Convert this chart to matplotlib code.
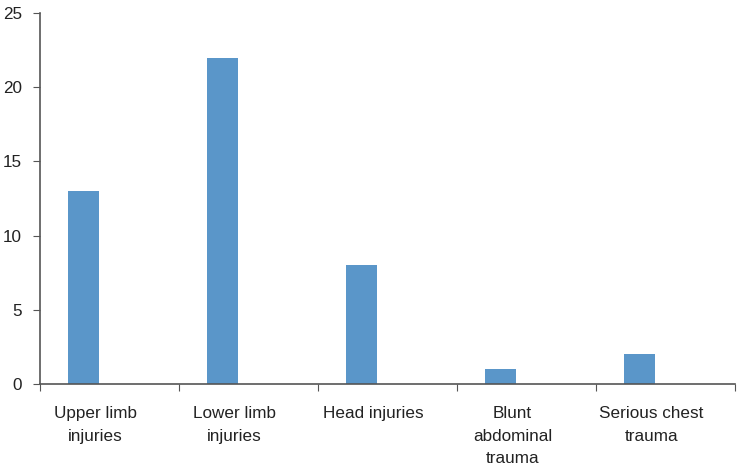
import matplotlib
matplotlib.use("Agg")
import matplotlib.pyplot as plt
import numpy as np

categories = ["Upper limb\ninjuries", "Lower limb\ninjuries", "Head injuries",
              "Blunt\nabdominal\ntrauma", "Serious chest\ntrauma"]
values = [13, 22, 8, 1, 2]
yticks = [0, 5, 10, 15, 20, 25]

plt.rcParams['font.family'] = ['Liberation Sans', 'DejaVu Sans']

fig = plt.figure(figsize=(7.41, 4.75), dpi=100)
ax = fig.add_axes([0.054, 0.1916, 0.938, 0.781])

idx = np.arange(len(categories))
ax.bar(idx + 0.313, values, width=0.225, color='#5A96C9', align='center')

ax.set_xlim(0, len(categories))
ax.set_ylim(0, 25)
ax.set_yticks(yticks)
ax.set_xticks(np.arange(len(categories) + 1))
ax.set_xticklabels([])
ax.set_xticks(idx + 0.40, minor=True)
ax.set_xticklabels(categories, minor=True, fontsize=12.3, color='#222222',
                   linespacing=1.62)
ax.tick_params(axis='x', which='minor', length=0, pad=16)
ax.tick_params(axis='x', which='major', length=5, color='#555555', direction='out')
ax.tick_params(axis='y', length=5, color='#555555', labelsize=12.3, labelcolor='#222222', pad=8)

for s in ['top', 'right']:
    ax.spines[s].set_visible(False)
for s in ['left', 'bottom']:
    ax.spines[s].set_color('#555555')
    ax.spines[s].set_linewidth(1.2)

fig.savefig('out.png', dpi=100)
